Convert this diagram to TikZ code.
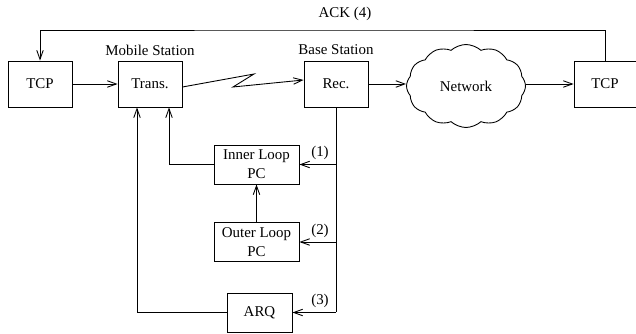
\documentclass[tikz,border=0pt]{standalone}
\usepackage{fontspec}
\setmainfont{Liberation Serif}
\usetikzlibrary{positioning,shapes,shapes.symbols,arrows.meta,calc}

\tikzset{
  block/.style={draw, minimum width=1.28cm, minimum height=0.92cm, inner sep=1pt},
  pcbox/.style={draw, minimum width=1.7cm, minimum height=0.78cm, inner sep=1pt, align=center},
  arr/.style={-{Straight Barb[length=0.18cm, width=0.13cm]}},
}

\begin{document}
\begin{tikzpicture}[x=0.02cm, y=-0.02cm, line width=0.5pt,
    font=\fontsize{8.5}{10.8}\selectfont]
  \useasboundingbox (0,0) rectangle (636,334);
  % upper chain
  \node[block] (tcpL) at (40,84) {TCP};
  \node[block] (trans) at (150,84) {Trans.};
  \node[block] (rec) at (336,84) {Rec.};
  \node[draw, cloud, cloud puffs=12, cloud puff arc=85, aspect=1.45,
        minimum width=2.38cm, minimum height=1.66cm] (net) at (466,86) {Network};
  \node[block, minimum width=1.24cm] (tcpR) at (605,84) {TCP};
  \node at (150,50) {Mobile Station};
  \node at (336,50) {Base Station};
  % feedback blocks
  \node[pcbox] (inner) at (256.5,164.5) {Inner Loop\\PC};
  \node[pcbox] (outer) at (256.5,242) {Outer Loop\\PC};
  \node[pcbox, minimum width=1.3cm] (arq) at (259.5,312.5) {ARQ};
  % forward links
  \draw[arr] (tcpL) -- (trans);
  \draw[arr] ($(trans.east)+(0,3)$) -- (254,74) -- (233,87) -- ($(rec.west)+(0,-4)$);
  \draw[arr] (rec) -- (rec -| net.west);
  \draw[arr] (net.east |- tcpR) -- (tcpR);
  % end-to-end ack
  \coordinate (ack) at (345,30);
  \draw[arr] (tcpR.north) |- (ack) -| (tcpL.north);
  \node at (345,14) {ACK (4)};
  % measurements from the receiver
  \coordinate (tap) at (rec.south |- arq.east);
  \draw (rec.south) -- (tap);
  \draw[arr] (rec.south |- inner.east) -- (inner.east);
  \draw[arr] (rec.south |- outer.east) -- (outer.east);
  \draw[arr] (tap) -- (arq.east);
  \node at (320,153) {(1)};
  \node at (320,231) {(2)};
  \node at (320,301) {(3)};
  % commands back to the transmitter
  \draw[arr] (outer) -- (inner);
  \draw[arr] (inner.west) -| ($(trans.south)+(19,0)$);
  \draw[arr] (arq.west) -| ($(trans.south)+(-13,0)$);
\end{tikzpicture}
\end{document}
